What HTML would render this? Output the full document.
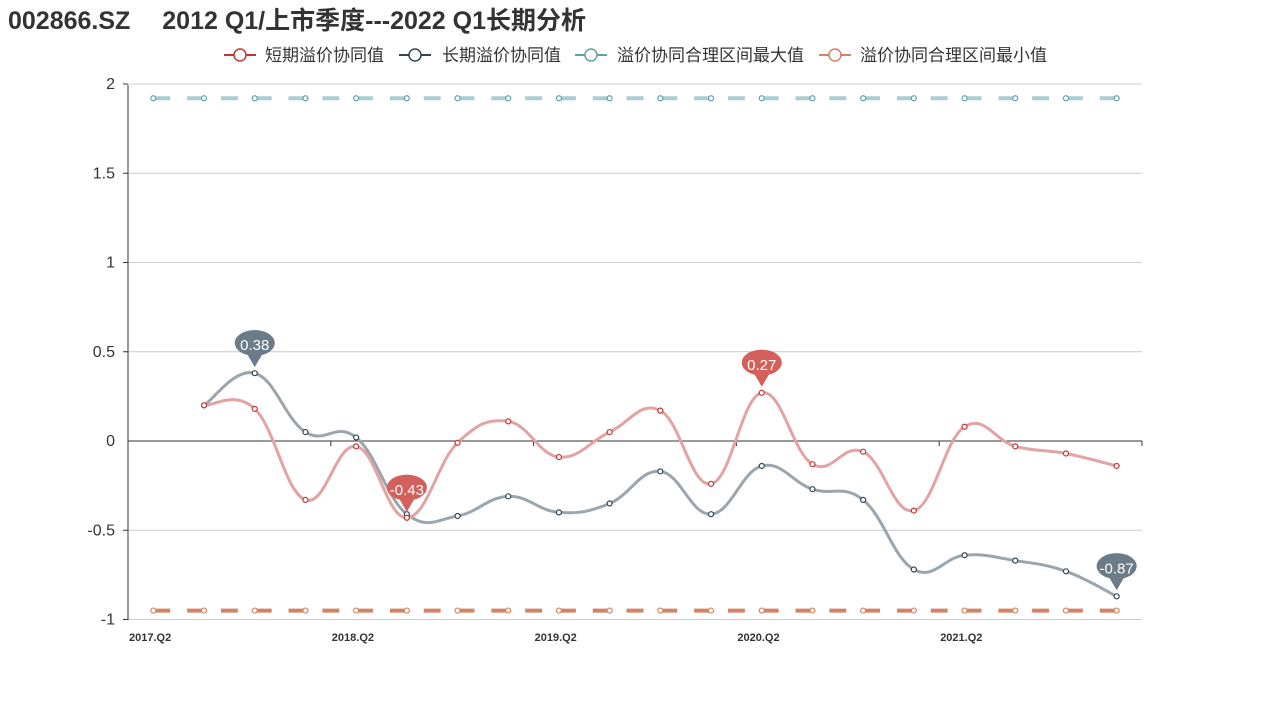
<!DOCTYPE html>
<html><head><meta charset="utf-8"><style>
body{margin:0;background:#fff;width:1269px;height:705px;overflow:hidden;font-family:"Liberation Sans","Noto Sans CJK SC",sans-serif}
</style></head><body>
<svg id="s" width="1269" height="705" xmlns="http://www.w3.org/2000/svg" style="position:absolute;left:0;top:0">
<text x="8" y="29" font-size="25" font-weight="bold" fill="#333" font-family="Liberation Sans,Noto Sans CJK SC,sans-serif">002866.SZ　 2012 Q1/上市季度---2022 Q1长期分析</text>
<g font-size="17" fill="#333" font-family="Liberation Sans,Noto Sans CJK SC,sans-serif">
<line x1="224" y1="55" x2="256" y2="55" stroke="#c23531" stroke-width="2"/><circle cx="240" cy="55" r="6" fill="#fff" stroke="#c23531" stroke-width="1.5"/><text x="265" y="61">短期溢价协同值</text>
<line x1="399" y1="55" x2="431" y2="55" stroke="#2f4554" stroke-width="2"/><circle cx="415" cy="55" r="6" fill="#fff" stroke="#2f4554" stroke-width="1.5"/><text x="442" y="61">长期溢价协同值</text>
<line x1="575" y1="55" x2="607" y2="55" stroke="#61a0a8" stroke-width="2"/><circle cx="591" cy="55" r="6" fill="#fff" stroke="#61a0a8" stroke-width="1.5"/><text x="617" y="61">溢价协同合理区间最大值</text>
<line x1="819" y1="55" x2="851" y2="55" stroke="#d48265" stroke-width="2"/><circle cx="835" cy="55" r="6" fill="#fff" stroke="#d48265" stroke-width="1.5"/><text x="860" y="61">溢价协同合理区间最小值</text>
</g>
<g id="g"></g>
</svg>
<script>
var g=document.getElementById('g'),h='';
function Y(v){return 441-v*178.5}
function X(i){return 128+50.7*(i+0.5)}
var ticks=[2,1.5,1,0.5,-0.5,-1];
ticks.forEach(function(t){var y=Y(t);h+='<line x1="128" x2="1142" y1="'+y+'" y2="'+y+'" stroke="#ccc"/>';
h+='<line x1="123" x2="128" y1="'+y+'" y2="'+y+'" stroke="#333"/>';
h+='<text x="115" y="'+(y+5)+'" font-size="16" text-anchor="end" fill="#333">'+t+'</text>';});
h+='<text x="115" y="446" font-size="16" text-anchor="end" fill="#333">0</text>';
h+='<line x1="128" x2="128" y1="85" y2="620" stroke="#333"/>';
h+='<line x1="128" x2="1142" y1="441" y2="441" stroke="#333"/>';
for(var k=0;k<=5;k++){var x=128+k*4*50.7;h+='<line x1="'+x+'" x2="'+x+'" y1="441" y2="446" stroke="#333"/>';}
var labs=['2017.Q2','2018.Q2','2019.Q2','2020.Q2','2021.Q2'];
labs.forEach(function(l,k){h+='<text x="'+(129+k*4*50.7)+'" y="641" font-size="11" font-weight="bold" fill="#333">'+l+'</text>';});
function path(pts){var d='M'+pts[0][0]+','+pts[0][1];
for(var i=0;i<pts.length-1;i++){var p0=pts[Math.max(0,i-1)],p1=pts[i],p2=pts[i+1],p3=pts[Math.min(pts.length-1,i+2)];
var c1=[p1[0]+(p2[0]-p0[0])*0.2,p1[1]+(p2[1]-p0[1])*0.2],c2=[p2[0]-(p3[0]-p1[0])*0.2,p2[1]-(p3[1]-p1[1])*0.2];
d+=' C'+c1+' '+c2+' '+p2;}return d;}
function series(vals,start,col,lc,w,dash){var pts=vals.map(function(v,i){return [X(i+start),Y(v)]});
h+='<path d="'+(dash?('M'+pts[0]+' L'+pts[pts.length-1]):path(pts))+'" fill="none" stroke="'+lc+'" stroke-width="'+w+'"'+(dash?' stroke-dasharray="16.9,16.9"':'')+'/>';
pts.forEach(function(p){h+='<circle cx="'+p[0]+'" cy="'+p[1]+'" r="2.5" fill="#fff" stroke="'+col+'" stroke-width="1.2"/>'});return pts;}
var mx=[],mn=[];for(var i=0;i<20;i++){mx.push(1.92);mn.push(-0.95);}
series(mx,0,'#61a0a8','#a9cdd0',4,true);
series(mn,0,'#d48265','#d48265',4,true);
var L=[0.2,0.38,0.05,0.02,-0.41,-0.42,-0.31,-0.4,-0.35,-0.17,-0.41,-0.14,-0.27,-0.33,-0.72,-0.64,-0.67,-0.73,-0.87];
var S=[0.2,0.18,-0.33,-0.03,-0.43,-0.01,0.11,-0.09,0.05,0.17,-0.24,0.27,-0.13,-0.06,-0.39,0.08,-0.03,-0.07,-0.14];
series(L,1,'#2f4554','#9aa5ae',3);
series(S,1,'#c23531','#e2a3a2',3);
function pin(i,v,col,txt){var x=X(i),y=Y(v)-6;
h+='<path d="M'+x+','+y+' L'+(x-7)+','+(y-12)+' A20,13 0 1 1 '+(x+7)+','+(y-12)+' Z" fill="'+col+'"/>';
h+='<text x="'+x+'" y="'+(y-17)+'" font-size="15" fill="#fff" text-anchor="middle">'+txt+'</text>';}
pin(2,0.38,'#6b7b87','0.38');
pin(5,-0.43,'#d4605c','-0.43');
pin(12,0.27,'#d4605c','0.27');
pin(19,-0.87,'#6b7b87','-0.87');
g.innerHTML=h;
</script>
</body></html>
